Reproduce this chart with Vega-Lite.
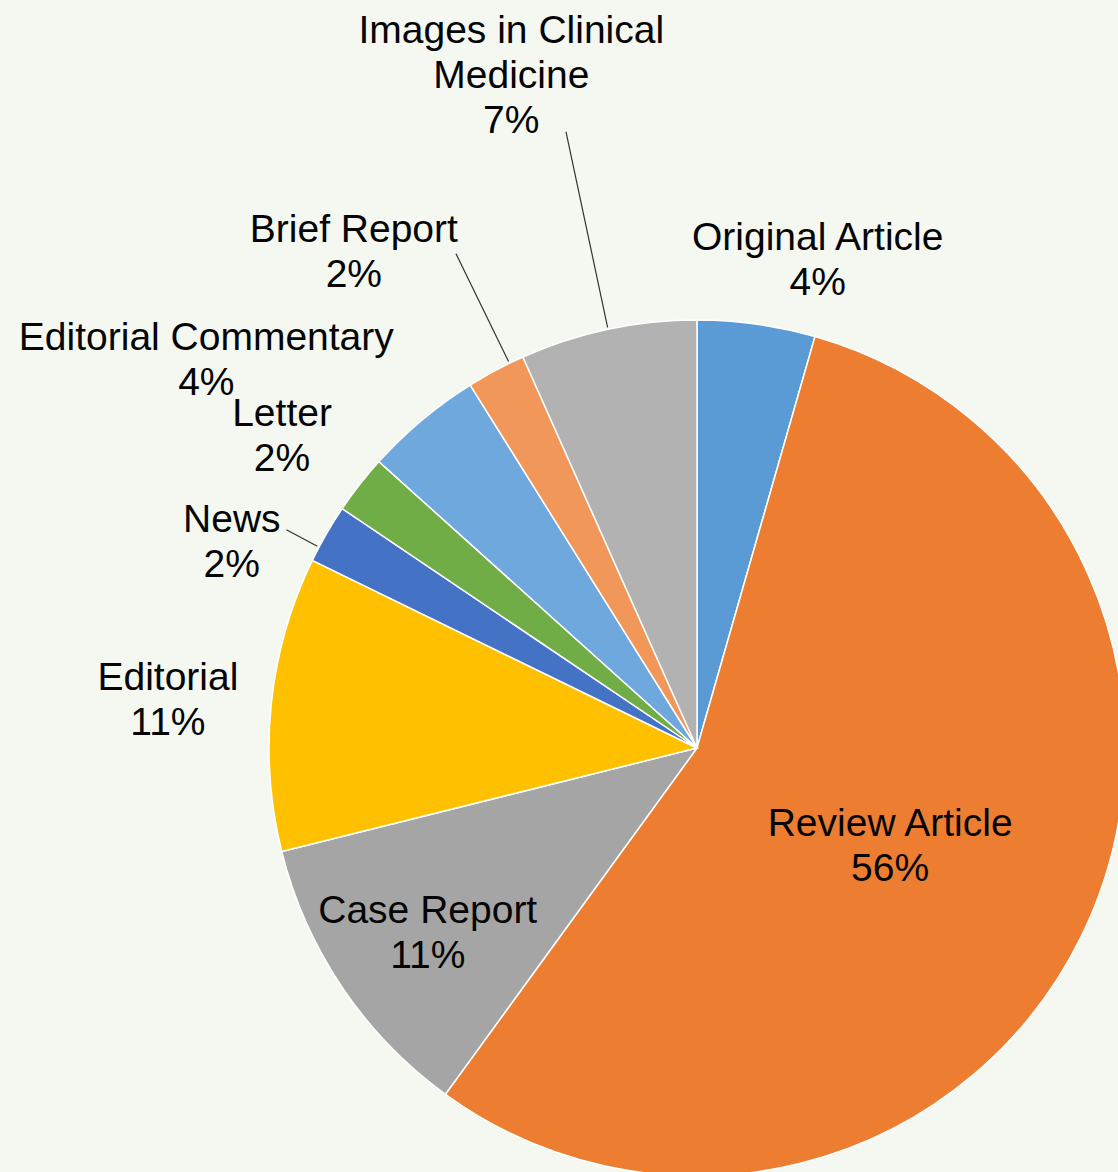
{
  "$schema": "https://vega.github.io/schema/vega-lite/v6.json",
  "autosize": {"type": "none"},
  "width": 842,
  "height": 848,
  "padding": {"left": 276, "top": 324, "right": 0, "bottom": 0},
  "background": "#f4f8f1",
  "config": {"view": {"stroke": null}},
  "data": {
    "values": [
      {"type": "Original Article", "name": "Original Article", "count": 2},
      {"type": "Review Article", "name": "Review Article", "count": 25},
      {"type": "Case Report", "name": "Case Report", "count": 5},
      {"type": "Editorial", "name": "Editorial", "count": 5},
      {"type": "News", "name": "News", "count": 1},
      {"type": "Letter", "name": "Letter", "count": 1},
      {"type": "Editorial Commentary", "name": "Editorial Commentary", "count": 2},
      {"type": "Brief Report", "name": "Brief Report", "count": 1},
      {"type": "Images in Clinical Medicine", "name": "Images in Clinical\nMedicine", "count": 3}
    ]
  },
  "transform": [
    {"window": [{"op": "row_number", "as": "i"}]},
    {"joinaggregate": [{"op": "sum", "field": "count", "as": "total"}]},
    {"calculate": "datum.name + '\\n' + format(datum.count / datum.total, '.0%')", "as": "label"}
  ],
  "layer": [
    {
      "mark": {"type": "arc", "outerRadius": 428, "stroke": "#ffffff", "strokeWidth": 1.5},
      "encoding": {
        "theta": {"field": "count", "type": "quantitative", "stack": true},
        "order": {"field": "i", "type": "quantitative"},
        "color": {
          "field": "type",
          "type": "nominal",
          "legend": null,
          "scale": {
            "domain": ["Original Article", "Review Article", "Case Report", "Editorial", "News", "Letter", "Editorial Commentary", "Brief Report", "Images in Clinical Medicine"],
            "range": ["#5B9BD5", "#ED7D31", "#A5A5A5", "#FFC000", "#4472C4", "#70AD47", "#6FA8DC", "#F1975A", "#B2B2B2"]
          }
        }
      }
    },
    {
      "mark": {
        "type": "arc",
        "padAngle": 3,
        "innerRadius": 430,
        "outerRadius": {"expr": "datum.type==='Images in Clinical Medicine'?630:datum.type==='Brief Report'?550:465"},
        "thetaOffset": {"expr": "datum.type==='Brief Report'?0.035:datum.type==='News'?-0.035:0"},
        "theta2Offset": {"expr": "datum.type==='Brief Report'?0.035:datum.type==='News'?-0.035:0"},
        "fill": "transparent",
        "stroke": "#333333",
        "strokeWidth": 1.2
      },
      "encoding": {
        "theta": {"field": "count", "type": "quantitative", "stack": true},
        "order": {"field": "i", "type": "quantitative"},
        "strokeOpacity": {
          "condition": {"test": "datum.type==='News'||datum.type==='Brief Report'||datum.type==='Images in Clinical Medicine'", "value": 1},
          "value": 0
        }
      }
    },
    {
      "mark": {
        "type": "text",
        "font": "Liberation Sans",
        "fontSize": 39,
        "lineBreak": "\n",
        "lineHeight": 45,
        "align": "center",
        "baseline": "middle",
        "fill": "#050505",
        "radius": {"expr": "datum.type==='Original Article'?501:datum.type==='Review Article'?216:datum.type==='Case Report'?326:datum.type==='Editorial'?531:datum.type==='News'?506:datum.type==='Letter'?519:datum.type==='Editorial Commentary'?614:datum.type==='Brief Report'?601:696"},
        "dx": {"expr": "datum.type==='Original Article'?51:datum.type==='Review Article'?-1:datum.type==='Case Report'?1:datum.type==='Editorial'?-1:datum.type==='News'?-27:datum.type==='Letter'?-6:datum.type==='Editorial Commentary'?-96:datum.type==='Brief Report'?-61:-41"},
        "dy": {"expr": "datum.type==='Original Article'?-14:datum.type==='Review Article'?-19:datum.type==='Case Report'?-19:datum.type==='Editorial'?-14:datum.type==='News'?25:datum.type==='Letter'?-14:datum.type==='Editorial Commentary'?60:datum.type==='Brief Report'?13:-36"}
      },
      "encoding": {
        "theta": {"field": "count", "type": "quantitative", "stack": true},
        "order": {"field": "i", "type": "quantitative"},
        "text": {"field": "label", "type": "nominal"}
      }
    }
  ]
}
